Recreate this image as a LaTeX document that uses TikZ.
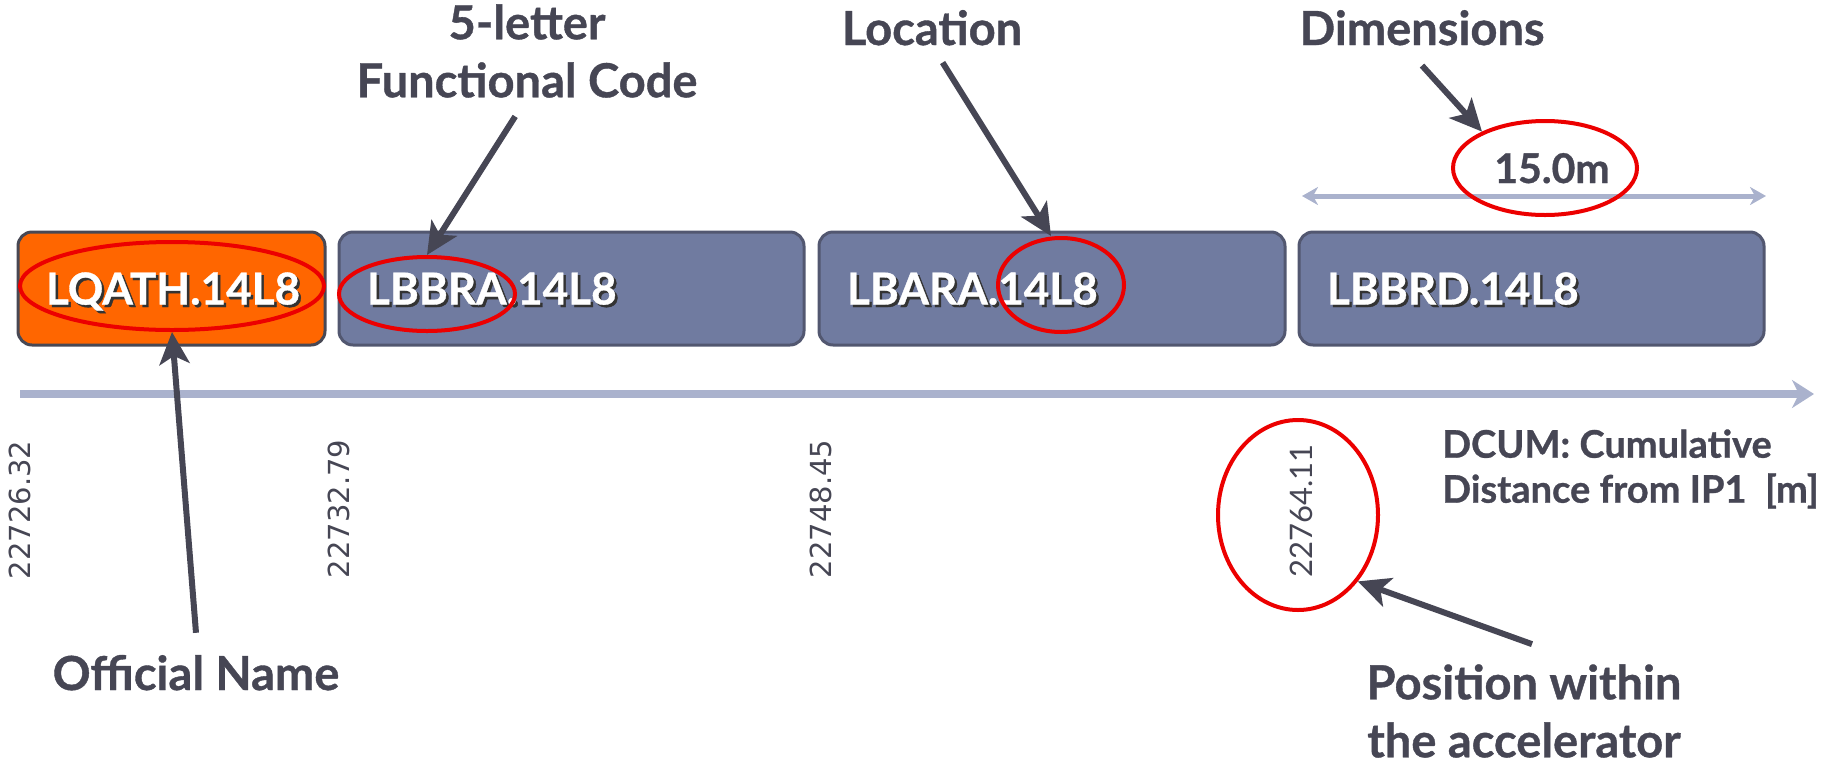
\documentclass[tikz,border=0pt]{standalone}
\usepackage{fontspec}
\setmainfont{Lato}[BoldFeatures={FakeBold=0.8}]
\newfontfamily\numfont{DejaVu Sans}
\usetikzlibrary{shapes.geometric,arrows.meta}
\definecolor{txt}{RGB}{70,70,84}
\definecolor{boxblue}{RGB}{112,123,160}
\definecolor{boxedge}{RGB}{82,87,112}
\definecolor{boxedgeo}{RGB}{72,72,84}
\definecolor{orng}{RGB}{255,102,0}
\definecolor{axiscol}{RGB}{170,178,205}
\definecolor{ring}{RGB}{236,0,0}
\newcommand\shad[1]{\leavevmode\rlap{\kern2.5pt\raisebox{-2.5pt}{\color{black!80}#1}}{\color{white}#1}}
\tikzset{
  lbl/.style={text=txt, font=\fontsize{47}{58}\selectfont\bfseries, inner sep=0pt, align=center},
  smalllbl/.style={text=txt, font=\fontsize{38}{45}\selectfont\bfseries, inner sep=0pt, align=left},
  magnet/.style={rounded corners=14pt, draw=boxedge, line width=3pt, fill=boxblue,
    minimum height=113pt, inner xsep=28pt, inner ysep=0pt, align=left,
    text height=32pt, text depth=0pt, font=\fontsize{44}{44}\selectfont\bfseries},
  ringnode/.style={ellipse, draw=ring, line width=4pt, inner sep=0pt},
  ptr/.style={draw=txt, line width=6pt, -{Stealth[length=32pt,width=30pt,inset=8pt]}},
  axisline/.style={draw=axiscol, line width=8pt, -{Stealth[length=22pt,width=28pt,inset=7pt]}},
  dimline/.style={draw=axiscol, line width=5pt, {Stealth[length=16pt,width=18pt,inset=5pt]}-{Stealth[length=16pt,width=18pt,inset=5pt]}},
  num/.style={rotate=90, text=txt, font=\numfont\fontsize{29}{29}\selectfont, inner sep=0pt}
}
\begin{document}
\begin{tikzpicture}[x=1pt,y=-1pt]
\useasboundingbox (0,0) rectangle (1839,764);
% magnet boxes
\node[magnet, fill=orng, draw=boxedgeo, minimum width=307pt, text width=251pt] (b1) at (171.5,288.5) {\shad{LQATH.14L8}};
\node[magnet, minimum width=465pt, text width=409pt] (b2) at (571.5,288.5) {\shad{LBBRA.14L8}};
\node[magnet, minimum width=466pt, text width=410pt] (b3) at (1052,288.5) {\shad{LBARA.14L8}};
\node[magnet, minimum width=465pt, text width=409pt] (b4) at (1531.5,288.5) {\shad{LBBRD.14L8}};
% axis
\coordinate (ax0) at (20,394);
\coordinate (ax1) at (1814,394);
\draw[axisline] (ax0) -- (ax1);
% dimension
\coordinate (d0) at (1302,196);
\coordinate (d1) at (1766,196);
\draw[dimline] (d0) -- (d1);
\node[text=txt, font=\fontsize{41}{41}\selectfont\bfseries, inner sep=0pt, anchor=base] (len) at (1552,183) {15.0m};
% positions
\node[num] (n1) at (20,510) {22726.32};
\node[num] (n2) at (339,509) {22732.79};
\node[num] (n3) at (821,509) {22748.45};
\node[num, font=\fontsize{31}{31}\selectfont] (n4) at (1301,511) {22764.11};
% red rings
\node[ringnode, minimum width=304pt, minimum height=88pt] (e1) at (172,286) {};
\node[ringnode, minimum width=176pt, minimum height=74pt] (e2) at (427,294) {};
\node[ringnode, minimum width=126pt, minimum height=94pt] (e3) at (1061,285) {};
\node[ringnode, minimum width=184pt, minimum height=94pt] (e4) at (1545,168) {};
\node[ringnode, minimum width=160pt, minimum height=190pt] (e5) at (1298,515) {};
% labels
\node[lbl] (fc) at (527,51) {5-letter\\Functional Code};
\node[lbl, anchor=base] (loc) at (932,45) {Location};
\node[lbl, anchor=base] (dim) at (1422,45) {Dimensions};
\node[lbl, anchor=base] (off) at (196,690) {Official Name};
\node[lbl] (pos) at (1524,711) {Position within\\the accelerator};
\node[smalllbl, anchor=west] (dcum) at (1442,469) {DCUM: Cumulative\\Distance from IP1~ [m]};
% pointers
\draw[ptr, shorten <=22pt] (fc.south) -- (e2.north);
\draw[ptr, shorten <=20pt] (loc.south) -- ([xshift=-10pt]e3.north);
\draw[ptr] ([yshift=-20pt]dim.south) -- (e4.150);
\draw[ptr] ([yshift=22pt]off.north) -- (e1.south);
\draw[ptr] ([xshift=8pt,yshift=20pt]pos.north) -- (e5.-48);
\end{tikzpicture}
\end{document}
